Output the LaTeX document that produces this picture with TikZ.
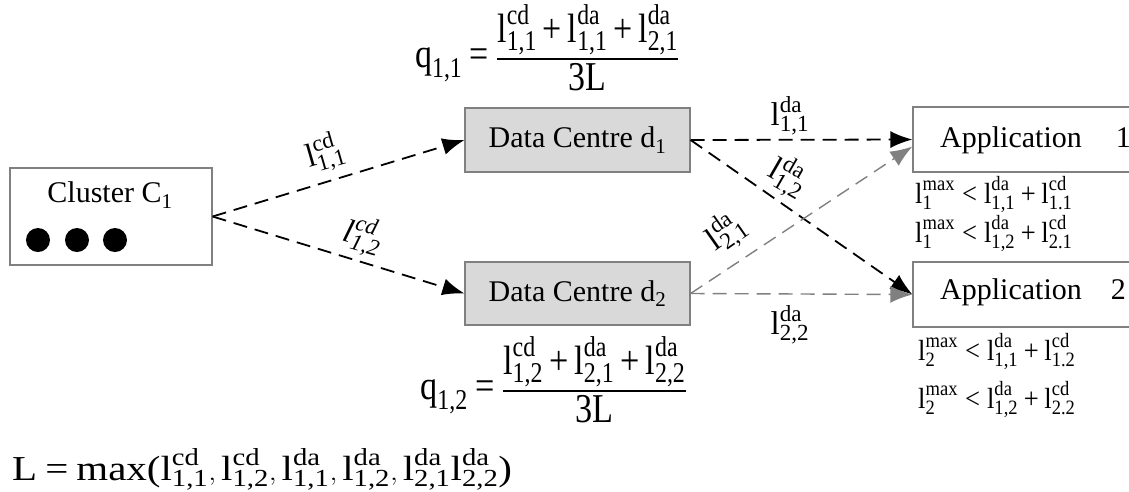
\documentclass[tikz,border=0pt]{standalone}
\usepackage{amsmath}
\usepackage{fontspec}
\setmainfont{Liberation Serif}
\usetikzlibrary{arrows.meta}
\newcommand{\lv}[2]{\text{l}^{\text{#1}}_{\text{#2}}}
\newcommand{\pl}{\mathbin{\text{+}}}
\newcommand{\eqs}{\mathrel{\text{=}}}
\newcommand{\lts}{\mathrel{\text{<}}}
\begin{document}
\begin{tikzpicture}[x=1pt,y=-1pt,
  every node/.style={font=\fontsize{30}{36}\selectfont},
  box/.style={draw=gray, line width=1.2pt, inner sep=0pt},
  dcbox/.style={box, fill=gray!30},
  dot/.style={circle, fill=black, inner sep=0pt, minimum size=24pt},
  blk/.style={draw=black, dash pattern=on 14pt off 8pt, line width=1.8pt, -{Latex[length=22pt,width=17pt]}},
  gry/.style={blk, draw=gray, line width=1.4pt},
  lbl/.style={inner sep=0pt, font=\fontsize{33}{38}\selectfont},
  eqn/.style={inner sep=0pt, anchor=base west, font=\fontsize{32}{38}\selectfont},
  ineq/.style={inner sep=0pt, anchor=base west, font=\fontsize{26}{30}\selectfont}]
\useasboundingbox (0,0) rectangle (1129,491);

% boxes
\node[box, minimum width=202pt, minimum height=97pt] (c) at (111,216.5) {};
\node[inner sep=0pt] (ct) at (110,195) {Cluster $\text{C}_{\text{1}}$};
\node[dot] (p1) at (38,240) {};
\node[dot] (p2) at (77,240) {};
\node[dot] (p3) at (115,240) {};

\node[dcbox, minimum width=225pt, minimum height=64pt] (d1) at (577.5,140) {Data Centre $\text{d}_{\text{1}}$};
\node[dcbox, minimum width=225pt, minimum height=63pt] (d2) at (577.5,293.5) {Data Centre $\text{d}_{\text{2}}$};

\node[box, minimum width=240pt, minimum height=65pt] (a1) at (1033,139.5) {};
\node[box, minimum width=240pt, minimum height=65pt] (a2) at (1033,294.5) {};
\node[inner sep=0pt, anchor=west] (a1t) at (940,140) {Application\hspace{34pt}1};
\node[inner sep=0pt, anchor=west] (a2t) at (940,292) {Application\hspace{29pt}2};

% connectors
\draw[blk] (c.east) -- (d1.west);
\draw[blk] (c.east) -- (d2.west);
\draw[blk] (d1.east) -- (a1.west);
\draw[blk] (d1.east) -- (a2.west);
\draw[gry] (d2.east) -- ([yshift=-7pt]a1.west);
\draw[gry] (d2.east) -- (a2.west);

% link labels
\node[lbl, rotate=16] (k1) at (325,153) {$\lv{cd}{1,1}$};
\node[lbl, rotate=-16] (k2) at (363,236) {$\textit{l}^{\textit{cd}}_{\textit{1,2}}$};
\node[lbl] (k3) at (790,116) {$\lv{da}{1,1}$};
\node[lbl, rotate=-30] (k4) at (788,177) {$\lv{da}{1,2}$};
\node[lbl, rotate=35] (k5) at (726,232) {$\lv{da}{2,1}$};
\node[lbl] (k6) at (790,325) {$\lv{da}{2,2}$};

% formulas
\node[eqn] (q1) at (415,67) {\scalebox{1.06}[1.28]{$\text{q}_{\text{1,1}}\eqs\dfrac{\lv{cd}{1,1}\pl\lv{da}{1,1}\pl\lv{da}{2,1}}{\text{3L}}$}};
\node[eqn] (q2) at (420,399) {\scalebox{1.07}[1.28]{$\text{q}_{\text{1,2}}\eqs\dfrac{\lv{cd}{1,2}\pl\lv{da}{2,1}\pl\lv{da}{2,2}}{\text{3L}}$}};
\node[eqn, font=\fontsize{35}{40}\selectfont] (lm) at (12,480) {\scalebox{1.17}[1]{$\text{L}\eqs\text{max}\mathopen{\text{(}}\lv{cd}{1,1},\lv{cd}{1,2},\lv{da}{1,1},\lv{da}{1,2},\lv{da}{2,1}\lv{da}{2,2}\mathclose{\text{)}}$}};

% inequalities
\node[ineq] (i1) at (915,203) {\scalebox{1.02}[1.12]{$\lv{max}{1}\lts\lv{da}{1,1}\pl\lv{cd}{1.1}$}};
\node[ineq] (i2) at (915,242) {\scalebox{1.02}[1.12]{$\lv{max}{1}\lts\lv{da}{1,2}\pl\lv{cd}{2.1}$}};
\node[ineq] (i3) at (918,360) {\scalebox{1.02}[1.12]{$\lv{max}{2}\lts\lv{da}{1,1}\pl\lv{cd}{1.2}$}};
\node[ineq] (i4) at (918,408) {\scalebox{1.02}[1.12]{$\lv{max}{2}\lts\lv{da}{1,2}\pl\lv{cd}{2.2}$}};
\end{tikzpicture}
\end{document}
